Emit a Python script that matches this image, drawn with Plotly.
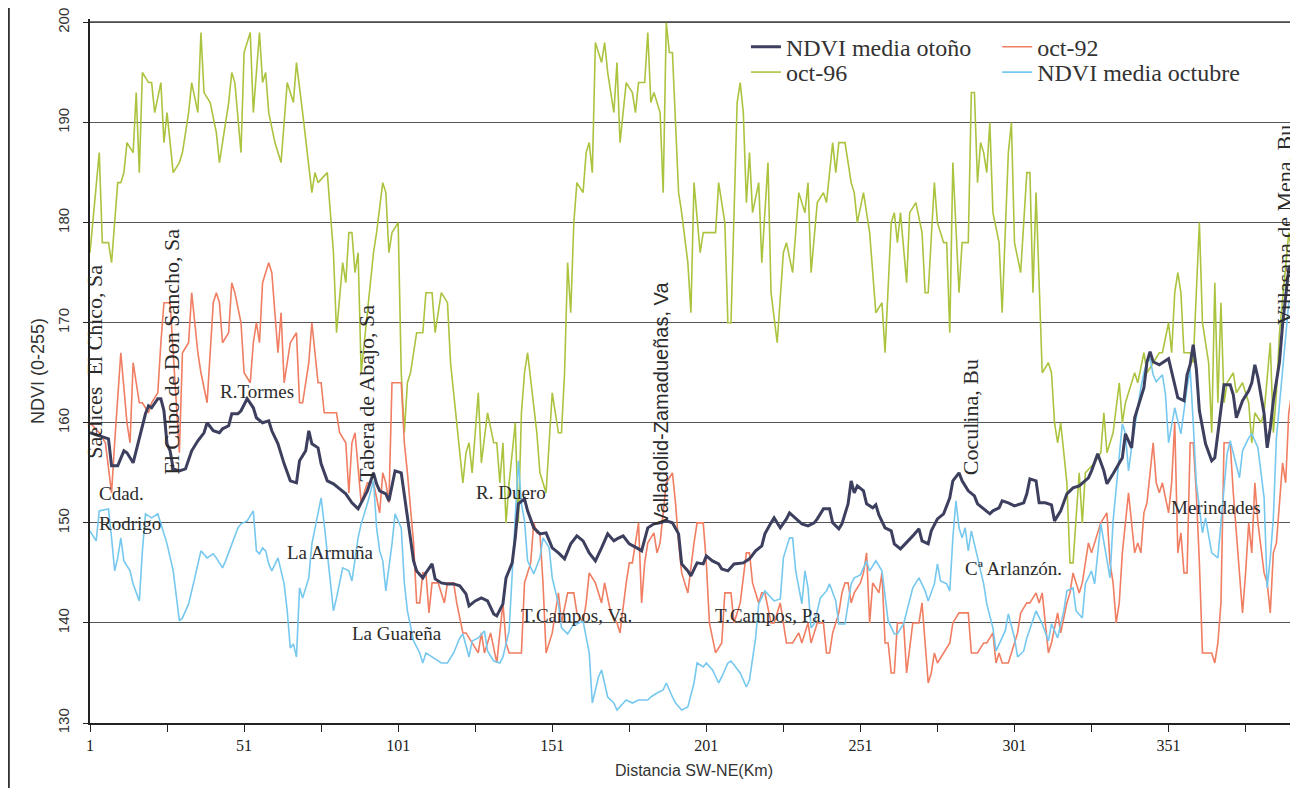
import plotly.graph_objects as go

# oct-96 (NDVI 0-255)
km_oct96 = [1, 4, 5, 7, 8, 10, 11, 12, 13, 15,
            16, 17, 18, 20, 21, 22, 24, 25, 26, 28,
            30, 31, 33, 34, 36, 37, 38, 40, 42, 43,
            46, 47, 48, 50, 51, 53, 54, 55, 56, 57,
            58, 59, 61, 63, 65, 67, 68, 70, 73, 74,
            75, 78, 80, 81, 83, 84, 85, 86, 87, 88,
            89, 93, 94, 96, 97, 98, 99, 101, 102, 103,
            104, 105, 107, 109, 110, 112, 113, 115, 117, 118,
            120, 122, 123, 124, 125, 127, 128, 130, 132, 133,
            134, 135, 136, 137, 139, 140, 141, 142, 143, 146,
            147, 149, 151, 153, 154, 155, 156, 157, 158, 159,
            161, 162, 163, 164, 165, 167, 168, 169, 171, 172,
            173, 174, 175, 177, 178, 179, 181, 182, 183, 184,
            186, 187, 188, 189, 190, 192, 193, 195, 196, 197,
            199, 200, 204, 205, 207, 208, 209, 211, 212, 213,
            214, 215, 216, 218, 219, 221, 222, 224, 226, 227,
            229, 231, 233, 234, 235, 237, 239, 240, 242, 243,
            244, 246, 248, 249, 250, 252, 254, 256, 258, 259,
            261, 262, 263, 264, 266, 267, 269, 271, 272, 273,
            275, 276, 278, 279, 280, 281, 283, 284, 286, 287,
            288, 289, 290, 291, 292, 293, 294, 296, 297, 299,
            300, 301, 303, 305, 306, 307, 308, 309, 310, 312,
            313, 314, 315, 316, 318, 319, 320, 322, 323, 324,
            327, 329, 330, 331, 333, 335, 336, 337, 340, 341,
            343, 344, 346, 348, 349, 351, 352, 353, 354, 355,
            356, 358, 359, 360, 361, 362, 364, 365, 366, 367,
            368, 369, 370, 372, 373, 375, 377, 378, 379, 381,
            382, 384, 385, 386, 387, 390, 391, 393]
ndvi_oct96 = [177, 187, 178, 178, 176, 184, 184, 185, 188, 187,
              193, 185, 195, 194, 194, 191, 194, 188, 191, 185,
              186, 187, 191, 194, 191, 199, 193, 192, 189, 186,
              192, 195, 194, 187, 197, 199, 191, 195, 199, 194,
              195, 191, 188, 186, 194, 192, 196, 191, 183, 185,
              184, 185, 177, 169, 176, 174, 179, 179, 175, 177,
              165, 177, 179, 184, 183, 177, 179, 180, 165, 159,
              164, 165, 169, 169, 173, 173, 169, 173, 172, 166,
              160, 154, 157, 158, 155, 163, 156, 161, 158, 158,
              154, 158, 150, 154, 160, 150, 161, 165, 167, 159,
              155, 153, 163, 159, 159, 165, 176, 171, 180, 184,
              183, 187, 188, 185, 198, 196, 198, 195, 191, 196,
              188, 191, 194, 193, 191, 194, 194, 199, 192, 193,
              191, 183, 200, 197, 197, 183, 181, 176, 171, 184,
              177, 179, 179, 184, 180, 170, 170, 192, 194, 191,
              182, 187, 181, 184, 176, 186, 173, 168, 177, 178,
              175, 183, 181, 184, 175, 182, 183, 182, 188, 185,
              188, 188, 184, 183, 180, 183, 179, 171, 172, 167,
              180, 181, 178, 181, 174, 181, 182, 179, 173, 173,
              184, 180, 178, 178, 169, 186, 173, 178, 178, 193,
              193, 184, 188, 187, 185, 190, 181, 178, 171, 187,
              190, 178, 175, 185, 185, 173, 183, 174, 165, 166,
              165, 160, 158, 160, 154, 146, 146, 155, 150, 155,
              156, 157, 161, 157, 159, 164, 160, 162, 165, 164,
              167, 165, 166, 167, 167, 170, 167, 173, 175, 173,
              167, 167, 166, 173, 180, 170, 166, 159, 174, 162,
              172, 162, 164, 165, 163, 164, 162, 158, 161, 160,
              161, 168, 159, 163, 169, 179, 177, 179]

# oct-92
km_oct92 = [1, 4, 6, 8, 9, 10, 11, 13, 14, 15,
            17, 18, 20, 21, 23, 24, 25, 27, 28, 30,
            31, 33, 34, 36, 37, 39, 41, 42, 43, 44,
            46, 47, 48, 50, 51, 53, 54, 55, 56, 57,
            59, 60, 62, 63, 64, 66, 68, 69, 70, 72,
            73, 75, 76, 77, 79, 81, 82, 84, 85, 86,
            87, 89, 90, 91, 93, 95, 96, 97, 98, 99,
            101, 102, 103, 104, 106, 107, 108, 109, 110, 111,
            112, 114, 116, 117, 119, 120, 122, 123, 125, 127,
            128, 129, 131, 133, 134, 135, 136, 137, 139, 141,
            142, 143, 144, 145, 146, 147, 148, 149, 151, 153,
            154, 156, 158, 159, 161, 162, 163, 165, 167, 168,
            170, 172, 173, 175, 176, 177, 179, 180, 181, 182,
            184, 185, 186, 187, 188, 190, 191, 192, 193, 194,
            195, 197, 198, 200, 201, 202, 204, 206, 207, 209,
            210, 212, 214, 215, 216, 218, 219, 220, 222, 223,
            225, 227, 229, 231, 232, 234, 235, 237, 239, 240,
            241, 242, 244, 245, 246, 247, 248, 249, 251, 252,
            253, 254, 255, 257, 258, 259, 260, 261, 262, 263,
            265, 266, 268, 270, 271, 272, 273, 274, 275, 276,
            278, 280, 281, 283, 284, 286, 287, 289, 291, 292,
            294, 295, 296, 297, 299, 300, 302, 303, 305, 306,
            308, 309, 310, 312, 313, 315, 316, 318, 319, 320,
            322, 323, 325, 326, 327, 329, 331, 332, 333, 334,
            335, 336, 338, 339, 340, 341, 342, 343, 344, 346,
            347, 348, 349, 351, 352, 353, 354, 355, 356, 357,
            358, 359, 360, 361, 362, 364, 365, 366, 367, 368,
            369, 371, 372, 374, 375, 376, 377, 378, 379, 380,
            382, 383, 384, 385, 386, 388, 389, 390, 391, 392,
            393]
ndvi_oct92 = [160, 159, 158, 153, 158, 163, 167, 160, 158, 166,
              162, 162, 161, 162, 163, 168, 172, 172, 167, 157,
              167, 168, 173, 167, 165, 162, 172, 173, 172, 168,
              169, 174, 173, 170, 165, 164, 168, 170, 168, 174,
              176, 175, 167, 171, 164, 168, 169, 162, 162, 166,
              170, 164, 164, 161, 161, 161, 159, 158, 153, 158,
              159, 152, 153, 154, 154, 151, 155, 154, 152, 164,
              164, 164, 158, 155, 148, 142, 142, 145, 145, 141,
              144, 144, 142, 144, 144, 142, 139, 139, 138, 137,
              139, 137, 139, 136, 139, 142, 138, 137, 137, 137,
              144, 145, 146, 150, 149, 149, 144, 137, 139, 143,
              140, 143, 143, 141, 140, 142, 145, 144, 142, 144,
              141, 140, 139, 144, 146, 146, 150, 142, 146, 148,
              149, 147, 148, 151, 154, 155, 152, 148, 145, 144,
              143, 148, 150, 150, 146, 140, 137, 138, 143, 143,
              140, 142, 147, 147, 144, 142, 143, 143, 140, 140,
              142, 138, 138, 139, 138, 140, 138, 140, 140, 137,
              137, 139, 141, 143, 144, 144, 142, 143, 144, 145,
              147, 140, 144, 143, 145, 138, 138, 135, 135, 140,
              140, 135, 140, 140, 142, 138, 134, 135, 137, 136,
              137, 138, 140, 141, 141, 141, 137, 137, 138, 138,
              139, 136, 137, 136, 136, 137, 139, 141, 142, 142,
              143, 142, 143, 137, 138, 141, 139, 142, 143, 145,
              143, 144, 148, 147, 148, 150, 151, 146, 144, 140,
              142, 147, 153, 150, 147, 148, 147, 151, 152, 158,
              154, 153, 154, 151, 154, 160, 147, 149, 145, 145,
              158, 158, 153, 146, 137, 137, 137, 136, 138, 142,
              158, 158, 153, 145, 141, 145, 150, 147, 154, 150,
              145, 144, 141, 147, 148, 156, 154, 161, 163, 166,
              170]

# NDVI media octubre
km_oct_mean = [1, 3, 4, 7, 8, 9, 10, 11, 12, 14,
               15, 17, 18, 19, 21, 23, 24, 26, 28, 29,
               30, 31, 33, 35, 37, 39, 41, 42, 44, 45,
               47, 49, 50, 52, 54, 55, 56, 57, 58, 59,
               60, 62, 64, 65, 66, 67, 68, 69, 70, 72,
               73, 75, 76, 77, 78, 79, 80, 81, 82, 83,
               85, 86, 88, 89, 91, 93, 94, 95, 96, 97,
               99, 100, 102, 103, 104, 106, 108, 109, 110, 112,
               115, 117, 119, 121, 122, 124, 125, 127, 129, 130,
               132, 134, 135, 137, 138, 139, 140, 141, 142, 143,
               145, 147, 148, 150, 151, 153, 154, 156, 158, 159,
               161, 163, 164, 166, 167, 169, 171, 172, 174, 175,
               177, 179, 180, 182, 183, 185, 187, 188, 190, 191,
               193, 195, 197, 198, 200, 201, 203, 205, 206, 208,
               209, 210, 212, 214, 215, 217, 218, 220, 222, 223,
               225, 226, 228, 229, 230, 231, 232, 233, 234, 235,
               236, 238, 240, 241, 243, 244, 246, 248, 249, 251,
               253, 254, 256, 258, 259, 260, 262, 263, 265, 267,
               268, 270, 272, 273, 275, 276, 277, 279, 280, 281,
               282, 283, 284, 285, 286, 287, 289, 291, 292, 294,
               295, 297, 298, 299, 301, 302, 304, 305, 307, 308,
               310, 312, 313, 315, 317, 318, 320, 321, 323, 324,
               326, 327, 329, 331, 332, 333, 335, 336, 337, 338,
               339, 341, 342, 343, 344, 345, 346, 347, 349, 350,
               351, 353, 355, 357, 358, 359, 360, 362, 363, 365,
               367, 368, 370, 371, 372, 374, 375, 377, 378, 380,
               382, 383, 384, 385, 386, 388, 390, 391, 392, 393]
ndvi_oct_mean = [149.2, 148.2, 151.2, 151.4, 148.5, 145.2, 146.5, 148.5, 146.2, 145.2,
                 143.9, 142.2, 147.2, 150.9, 150.5, 150.9, 149.9, 147.9, 145.2, 142.5,
                 140.2, 140.5, 141.9, 144.5, 147.2, 146.5, 146.9, 146.5, 145.5, 146.2,
                 147.9, 149.5, 149.9, 150.2, 151.2, 147.2, 146.9, 147.5, 147.2, 145.9,
                 145.2, 146.5, 143.9, 141.2, 137.5, 137.9, 136.6, 143.5, 142.5, 144.5,
                 147.9, 151.2, 152.5, 149.9, 147.2, 143.9, 141.2, 142.5, 143.9, 145.5,
                 145.2, 144.2, 148.5, 149.9, 151.9, 154.2, 149.5, 147.2, 146.2, 143.2,
                 147.9, 150.9, 149.5, 144.0, 141.2, 138.2, 137.0, 136.0, 137.0, 136.6,
                 136.0, 136.0, 137.0, 138.5, 138.9, 136.6, 138.2, 138.5, 139.2, 137.2,
                 136.2, 136.0, 136.6, 139.2, 145.2, 150.2, 156.2, 151.9, 150.2, 146.2,
                 144.9, 146.5, 148.5, 147.5, 144.5, 141.9, 139.5, 138.9, 139.9, 139.9,
                 140.2, 137.0, 132.0, 134.6, 135.3, 132.6, 132.0, 131.3, 132.0, 132.3,
                 132.0, 132.3, 132.3, 132.3, 132.6, 133.0, 133.3, 134.0, 132.6, 132.0,
                 131.3, 131.6, 134.0, 136.0, 135.6, 136.0, 135.3, 134.0, 134.6, 136.0,
                 136.2, 135.8, 135.0, 133.6, 134.3, 138.5, 141.9, 143.2, 142.5, 142.2,
                 142.4, 146.5, 148.5, 148.5, 145.2, 143.5, 141.9, 145.2, 143.5, 139.5,
                 139.9, 142.5, 143.2, 143.9, 142.2, 139.9, 139.9, 143.9, 144.5, 144.8,
                 146.2, 145.2, 146.2, 145.2, 142.9, 140.2, 138.9, 138.9, 139.9, 142.2,
                 143.5, 144.5, 143.2, 142.2, 143.9, 145.9, 144.2, 143.9, 143.2, 148.5,
                 152.2, 149.5, 148.5, 149.5, 147.2, 149.2, 146.5, 143.9, 141.9, 139.5,
                 137.2, 138.5, 139.2, 140.9, 138.5, 136.6, 137.2, 138.5, 140.2, 141.2,
                 139.9, 138.2, 139.9, 138.5, 141.2, 143.2, 143.5, 141.2, 140.5, 143.9,
                 145.2, 143.9, 149.9, 146.5, 144.5, 150.2, 156.2, 159.9, 158.9, 155.2,
                 157.5, 161.5, 163.5, 165.0, 166.1, 166.4, 164.8, 164.1, 164.8, 162.8,
                 158.0, 161.5, 158.9, 163.5, 165.4, 160.0, 154.0, 149.0, 150.5, 147.0,
                 146.5, 150.0, 156.9, 158.2, 157.0, 154.5, 157.2, 158.5, 158.9, 157.5,
                 152.5, 143.5, 146.5, 150.5, 158.5, 165.0, 172.0, 172.4, 171.8, 170.4]

# NDVI media otoño
km_autumn = [1, 4, 7, 8, 10, 12, 13, 15, 17, 19,
             20, 21, 23, 24, 25, 26, 27, 28, 30, 32,
             34, 36, 38, 39, 41, 43, 44, 46, 47, 49,
             50, 52, 54, 55, 57, 59, 60, 62, 64, 66,
             68, 69, 71, 72, 73, 75, 76, 78, 80, 82,
             84, 86, 88, 89, 91, 93, 94, 95, 97, 98,
             100, 102, 104, 106, 107, 109, 110, 112, 113, 115,
             117, 119, 121, 123, 124, 126, 128, 130, 132, 133,
             135, 136, 138, 139, 140, 142, 143, 145, 147, 149,
             151, 153, 155, 157, 159, 161, 163, 165, 167, 169,
             171, 172, 174, 176, 179, 180, 182, 184, 186, 188,
             190, 192, 193, 195, 196, 198, 200, 201, 203, 205,
             206, 208, 210, 213, 215, 217, 219, 220, 222, 223,
             225, 227, 228, 230, 232, 234, 236, 237, 239, 241,
             242, 244, 245, 247, 248, 249, 250, 252, 253, 255,
             256, 257, 259, 261, 262, 264, 266, 268, 270, 271,
             273, 274, 276, 278, 280, 281, 283, 284, 286, 288,
             289, 291, 293, 294, 296, 297, 299, 301, 304, 305,
             306, 308, 309, 311, 313, 314, 316, 318, 320, 322,
             325, 326, 328, 330, 331, 333, 335, 336, 337, 339,
             340, 341, 343, 344, 345, 346, 348, 351, 352, 354,
             356, 357, 358, 359, 360, 361, 363, 365, 366, 368,
             369, 371, 372, 373, 375, 377, 378, 379, 380, 382,
             383, 384, 385, 387, 388, 390, 391, 393]
ndvi_autumn = [159.0, 158.7, 158.4, 155.7, 155.7, 157.2, 157.0, 156.0, 158.5, 160.9,
               161.7, 161.5, 162.4, 162.4, 161.2, 157.9, 157.2, 155.4, 155.2, 155.4,
               157.2, 158.2, 159.0, 160.0, 159.2, 159.0, 159.4, 159.7, 160.9, 160.9,
               161.2, 162.4, 161.5, 160.5, 160.0, 160.2, 159.2, 157.9, 155.9, 154.2,
               154.0, 156.2, 157.2, 159.2, 157.9, 157.5, 155.9, 154.2, 153.9, 153.4,
               152.9, 152.0, 151.4, 152.0, 153.2, 155.0, 153.9, 153.2, 152.9, 152.2,
               155.2, 155.0, 150.4, 146.2, 145.2, 144.5, 145.0, 145.9, 144.4, 144.0,
               143.9, 143.9, 143.7, 142.9, 141.7, 142.2, 142.5, 142.2, 140.9, 140.7,
               141.9, 144.5, 146.0, 148.5, 151.9, 152.4, 151.2, 149.5, 148.9, 149.0,
               147.5, 147.0, 146.4, 147.9, 148.7, 148.2, 147.0, 146.2, 147.5, 148.9,
               148.2, 148.4, 148.7, 147.9, 147.4, 147.2, 149.5, 149.9, 150.0, 150.2,
               150.0, 148.9, 145.9, 145.2, 144.7, 146.0, 145.9, 146.7, 146.2, 145.9,
               145.4, 145.2, 145.9, 146.0, 146.4, 147.2, 147.7, 148.9, 150.0, 150.5,
               149.5, 150.4, 151.0, 150.4, 149.9, 149.7, 150.0, 150.4, 151.4, 151.4,
               150.0, 149.4, 149.9, 151.9, 154.2, 153.0, 153.7, 153.2, 151.9, 151.5,
               151.8, 150.8, 149.5, 149.2, 147.9, 147.4, 148.0, 148.7, 149.4, 148.2,
               147.9, 149.2, 150.4, 150.9, 152.5, 154.2, 155.0, 154.2, 153.2, 152.7,
               151.9, 151.4, 150.9, 151.2, 151.5, 152.2, 152.0, 151.7, 152.0, 152.9,
               154.4, 154.2, 152.0, 152.0, 151.8, 150.2, 151.2, 152.9, 153.5, 153.7,
               154.5, 155.2, 156.9, 155.2, 153.9, 154.9, 155.9, 156.5, 158.9, 157.5,
               160.5, 161.5, 163.5, 166.1, 167.1, 166.1, 165.8, 166.4, 165.1, 162.5,
               162.2, 164.8, 165.8, 167.8, 165.4, 161.2, 157.9, 156.2, 156.5, 161.5,
               163.8, 163.8, 162.8, 160.5, 162.2, 163.2, 164.0, 165.8, 164.5, 160.9,
               157.5, 159.5, 162.2, 166.1, 169.8, 175.4, 175.8, 175.8]

assert len(km_oct96) == len(ndvi_oct96)
assert len(km_oct92) == len(ndvi_oct92)
assert len(km_oct_mean) == len(ndvi_oct_mean)
assert len(km_autumn) == len(ndvi_autumn)

SERIF = "Liberation Serif, Times New Roman, serif"
SANS = "Liberation Sans, Arial, sans-serif"

fig = go.Figure()
fig.add_trace(go.Scatter(x=km_oct96, y=ndvi_oct96, mode="lines", name="oct-96",
                         line=dict(color="#abc43f", width=1.6), legend="legend3"))
fig.add_trace(go.Scatter(x=km_oct92, y=ndvi_oct92, mode="lines", name="oct-92",
                         line=dict(color="#f07e62", width=1.6), legend="legend2"))
fig.add_trace(go.Scatter(x=km_oct_mean, y=ndvi_oct_mean, mode="lines", name="NDVI media octubre",
                         line=dict(color="#76c8ef", width=1.6), legend="legend4"))
fig.add_trace(go.Scatter(x=km_autumn, y=ndvi_autumn, mode="lines", name="NDVI media otoño",
                         line=dict(color="#3d3f5e", width=3), legend="legend",
                         showlegend=True))

# place-name labels: (text, km, ndvi, angle, anchor, font, size)
labels = [
    ("Saelices  El Chico, Sa", 2.6, 166.1, -90, "center", SERIF, 22),
    ("El Cubo de Don Sancho, Sa", 27.6, 167.1, -90, "center", SERIF, 22),
    ("R.Tormes", 55.2, 163.1, 0, "center", SERIF, 19),
    ("Cdad.", 3.2, 152.9, 0, "left", SERIF, 19),
    ("Rodrigo", 3.2, 149.9, 0, "left", SERIF, 19),
    ("Tabera de Abajo, Sa", 90.9, 162.9, -90, "center", SERIF, 22),
    ("La Armuña", 78.9, 147.0, 0, "center", SERIF, 19),
    ("La Guareña", 100.7, 138.9, 0, "center", SERIF, 19),
    ("R. Duero", 137.7, 153.0, 0, "center", SERIF, 19),
    ("T.Campos, Va.", 158.8, 140.7, 0, "center", SERIF, 19),
    ("Valladolid-Zamadueñas, Va", 186.1, 162.0, -90, "center", SANS, 20),
    ("T.Campos, Pa.", 221.8, 140.7, 0, "center", SERIF, 19),
    ("Coculina, Bu", 286.7, 160.6, -90, "center", SERIF, 22),
    ("Cª Arlanzón.", 300.7, 145.4, 0, "center", SERIF, 19),
    ("Merindades", 366.3, 151.5, 0, "center", SERIF, 19),
    ("Villasana de Mena, Bu", 388.6, 179.8, -90, "center", SERIF, 22),
]
for text, kx, ky, ang, anc, fam, size in labels:
    fig.add_annotation(x=kx, y=ky, xref="x", yref="y", text=text, showarrow=False,
                       textangle=ang, xanchor=anc, yanchor="middle",
                       font=dict(family=fam, size=size, color="#2b2b2b"))

# scan page edge on the left
fig.add_shape(type="line", xref="paper", yref="paper", x0=-0.0672, x1=-0.0672,
              y0=-0.1, y1=1.03, line=dict(color="#333333", width=2))
# gridline along the top of the axis (plotly drops the one at the range end)
fig.add_shape(type="line", xref="paper", yref="paper", x0=0, x1=1, y0=0.996, y1=0.996,
              layer="above", line=dict(color="#444444", width=1.2))

fig.update_xaxes(range=[1, 393], tick0=1, dtick=50, ticks="outside", ticklen=7,
                 tickcolor="#222", showline=True, linecolor="#222", linewidth=1.5,
                 showgrid=False, zeroline=False,
                 tickfont=dict(family=SERIF, size=16, color="#222"),
                 minor=dict(tick0=1, dtick=25, ticks="outside", ticklen=7, tickcolor="#222"),
                 title=dict(text="Distancia SW-NE(Km)", standoff=12,
                            font=dict(family=SANS, size=16, color="#333")))
fig.update_yaxes(range=[130, 200.35], tick0=130, dtick=10, ticks="outside", ticklen=5,
                 tickcolor="#222", showline=True, linecolor="#222", linewidth=1.5,
                 showgrid=True, gridcolor="#555555", gridwidth=1, zeroline=False,
                 tickangle=-90, ticklabelstandoff=8, ticklabeloverflow="allow",
                 tickfont=dict(family=SANS, size=15, color="#333"),
                 title=dict(text="NDVI (0-255)", standoff=6,
                            font=dict(family=SANS, size=18, color="#333")))

legend_style = dict(orientation="v", yanchor="top", xanchor="left",
                    itemwidth=30, bgcolor="rgba(0,0,0,0)",
                    font=dict(family=SERIF, size=24, color="#333"))

# the page adds an 8 px body margin, so the figure is 16 px smaller than the window
fig.update_layout(
    width=1290, height=780, autosize=False, showlegend=True,
    margin=dict(l=82, r=0, t=9, b=65),
    paper_bgcolor="white", plot_bgcolor="white",
    legend=dict(legend_style, x=0.543, y=0.992),
    legend2=dict(legend_style, x=0.751, y=0.992),
    legend3=dict(legend_style, x=0.543, y=0.956),
    legend4=dict(legend_style, x=0.751, y=0.956),
)

fig.write_html("out.html")
